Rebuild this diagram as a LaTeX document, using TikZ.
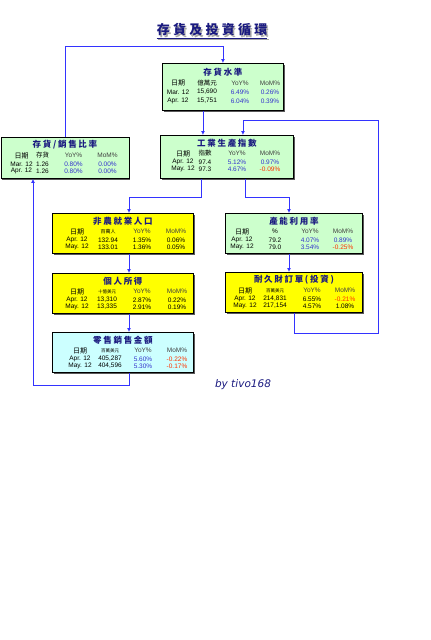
\documentclass[tikz,border=0pt]{standalone}
\usepackage{fontspec}
\setmainfont{Liberation Sans}
\newfontfamily\cjk{Noto Sans CJK TC}
\newfontfamily\verd{DejaVu Sans}
\usetikzlibrary{positioning,calc,arrows.meta,shadows}

\definecolor{boxgreen}{HTML}{CCFFCC}
\definecolor{boxyellow}{HTML}{FFFF00}
\definecolor{boxcyan}{HTML}{CCFFFF}
\definecolor{linkblue}{HTML}{3333FF}
\definecolor{navy}{HTML}{1A1A80}
\definecolor{valblue}{HTML}{3333CC}
\definecolor{valred}{HTML}{FF3300}

\newcommand{\bv}[1]{\textcolor{valblue}{#1}}
\newcommand{\rv}[1]{\textcolor{valred}{#1}}
\newcommand{\hd}[1]{\textcolor{black!75}{#1}}
\newcommand{\unitcjk}[2]{{\cjk\fontsize{#1}{#1}\selectfont #2}}
\newcommand{\setcols}[4]{\def\colA{#1}\def\colB{#2}\def\colC{#3}\def\colD{#4}}
\newcommand{\cellrow}[6]{%
  \node[cell] (#1#2a) at ($(#1.north west)+(\colA,#2)$) {#3};
  \node[cell] (#1#2b) at ($(#1.north west)+(\colB,#2)$) {#4};
  \node[cell] (#1#2c) at ($(#1.north west)+(\colC,#2)$) {#5};
  \node[cell] (#1#2d) at ($(#1.north west)+(\colD,#2)$) {#6};}

\tikzset{
  >={Latex[length=4pt,width=4pt]},
  databox/.style={draw=black, line width=0.9pt, inner sep=0pt, anchor=north west,
    drop shadow={shadow xshift=1.2pt, shadow yshift=-1.2pt, fill=black!65, opacity=1}},
  greenbox/.style={databox, fill=boxgreen},
  yellowbox/.style={databox, fill=boxyellow},
  cyanbox/.style={databox, fill=boxcyan},
  btitle/.style={inner sep=0pt, text=navy,
    font=\cjk\bfseries\fontsize{8.5}{9}\selectfont\addfontfeature{LetterSpace=20}},
  cell/.style={inner sep=0pt, font=\fontsize{6.5}{7}\selectfont},
  link/.style={draw=linkblue, line width=0.9pt},
  maintitle/.style={inner sep=0pt,
    font=\cjk\bfseries\fontsize{13}{14}\selectfont\addfontfeature{LetterSpace=25}},
}

\begin{document}
\begin{tikzpicture}[x=1pt,y=-1pt]
\useasboundingbox (0,0) rectangle (431,640);

% title
\node[maintitle, text=black!35] (titleshade) at (213.5,31.5) {存貨及投資循環};
\node[maintitle, text=navy] (title) at (212,30) {存貨及投資循環};
\draw[black!35, line width=0.8pt] ([xshift=1.5pt,yshift=-3pt]title.south west) -- ([xshift=1.5pt,yshift=-3pt]title.south east);
\draw[navy, line width=0.8pt] ([yshift=-2pt]title.south west) -- ([yshift=-2pt]title.south east);

% boxes
\node[greenbox, minimum width=121pt, minimum height=47pt] (stock) at (162,63) {};
\node[greenbox, minimum width=128pt, minimum height=41pt] (ratio) at (0.5,137) {};
\node[greenbox, minimum width=133pt, minimum height=43pt] (ind) at (160,135) {};
\node[yellowbox, minimum width=141pt, minimum height=40pt] (nfp) at (52,213) {};
\node[greenbox, minimum width=137pt, minimum height=40pt] (cap) at (225,213) {};
\node[yellowbox, minimum width=141pt, minimum height=40pt] (inc) at (52,273) {};
\node[yellowbox, minimum width=137pt, minimum height=40pt] (dur) at (225,272) {};
\node[cyanbox, minimum width=141pt, minimum height=40pt] (ret) at (52,332) {};

% box titles
\node[btitle] (stocktitle) at ($(stock.north)+(0,9)$) {存貨水準};
\node[btitle] (ratiotitle) at ($(ratio.north)+(0,8)$) {存貨/銷售比率};
\node[btitle] (indtitle) at ($(ind.north)+(0,8)$) {工業生產指數};
\node[btitle] (nfptitle) at ($(nfp.north)+(0,8)$) {非農就業人口};
\node[btitle] (captitle) at ($(cap.north)+(0,8)$) {產能利用率};
\node[btitle] (inctitle) at ($(inc.north)+(0,8)$) {個人所得};
\node[btitle] (durtitle) at ($(dur.north)+(0,8)$) {耐久財訂單(投資)};
\node[btitle] (rettitle) at ($(ret.north)+(0,8)$) {零售銷售金額};

% tables
\setcols{16}{45}{78}{108}
\cellrow{stock}{20}{\unitcjk{7}{日期}}{\unitcjk{6.5}{億萬元}}{\hd{YoY\%}}{\hd{MoM\%}}
\cellrow{stock}{29}{Mar. 12}{15,690}{\bv{6.49\%}}{\bv{0.26\%}}
\cellrow{stock}{38}{Apr. 12}{15,751}{\bv{6.04\%}}{\bv{0.39\%}}

\setcols{21}{42}{73}{107}
\cellrow{ratio}{18.5}{\unitcjk{7}{日期}}{\unitcjk{6.5}{存貨}}{\hd{YoY\%}}{\hd{MoM\%}}
\cellrow{ratio}{27}{Mar. 12}{1.26}{\bv{0.80\%}}{\bv{0.00\%}}
\cellrow{ratio}{34}{Apr. 12}{1.26}{\bv{0.80\%}}{\bv{0.00\%}}

\setcols{23}{45}{77}{110}
\cellrow{ind}{18.5}{\unitcjk{7}{日期}}{\unitcjk{6.5}{指數}}{\hd{YoY\%}}{\hd{MoM\%}}
\cellrow{ind}{27}{Apr. 12}{97.4}{\bv{5.12\%}}{\bv{0.97\%}}
\cellrow{ind}{34}{May. 12}{97.3}{\bv{4.67\%}}{\rv{-0.09\%}}

\setcols{25}{56}{90}{124}
\cellrow{nfp}{18.5}{\unitcjk{7}{日期}}{\unitcjk{5}{百萬人}}{\hd{YoY\%}}{\hd{MoM\%}}
\cellrow{nfp}{27}{Apr. 12}{132.94}{1.35\%}{0.06\%}
\cellrow{nfp}{34}{May. 12}{133.01}{1.36\%}{0.05\%}

\setcols{17}{50}{85}{118}
\cellrow{cap}{18.5}{\unitcjk{7}{日期}}{\%}{\hd{YoY\%}}{\hd{MoM\%}}
\cellrow{cap}{27}{Apr. 12}{79.2}{\bv{4.07\%}}{\bv{0.89\%}}
\cellrow{cap}{34}{May. 12}{79.0}{\bv{3.54\%}}{\rv{-0.25\%}}

\setcols{25}{55}{90}{125}
\cellrow{inc}{18.5}{\unitcjk{7}{日期}}{\unitcjk{4.5}{十億美元}}{\hd{YoY\%}}{\hd{MoM\%}}
\cellrow{inc}{27}{Apr. 12}{13,310}{2.87\%}{0.22\%}
\cellrow{inc}{34}{May. 12}{13,335}{2.91\%}{0.19\%}

\setcols{20}{50}{87}{120}
\cellrow{dur}{18.5}{\unitcjk{7}{日期}}{\unitcjk{4.5}{百萬美元}}{\hd{YoY\%}}{\hd{MoM\%}}
\cellrow{dur}{27}{Apr. 12}{214,831}{6.55\%}{\rv{-0.21\%}}
\cellrow{dur}{34}{May. 12}{217,154}{4.57\%}{1.08\%}

\setcols{28}{58}{91}{125}
\cellrow{ret}{18.5}{\unitcjk{7}{日期}}{\unitcjk{4.5}{百萬美元}}{\hd{YoY\%}}{\hd{MoM\%}}
\cellrow{ret}{27}{Apr. 12}{405,287}{\bv{5.60\%}}{\rv{-0.22\%}}
\cellrow{ret}{34}{May. 12}{404,596}{\bv{5.30\%}}{\rv{-0.17\%}}

% connectors
\coordinate (toprow) at (0,46);
\coordinate (midrow) at (0,197);
\coordinate (colL) at (129,0);
\coordinate (colR) at (289,0);
\coordinate (botL) at (33,385);
\coordinate (botR) at (378,333);
\coordinate (topR) at (378,120);
\draw[link,->] (ratio.north) |- (toprow -| stock.north) -- (stock.north);
\draw[link,->] ([xshift=-20pt]stock.south) -- ([xshift=-20pt]stock.south |- ind.north);
\draw[link,->] ([xshift=-26pt]ind.south) |- (midrow -| colL) -- (colL |- nfp.north);
\draw[link,->] ([xshift=18pt]ind.south) |- (midrow -| colR) -- (colR |- cap.north);
\draw[link,->] (colL |- nfp.south) -- (colL |- inc.north);
\draw[link,->] (colL |- inc.south) -- (colL |- ret.north);
\draw[link,->] (colR |- cap.south) -- (colR |- dur.north);
\draw[link,->] (colL |- ret.south) |- (botL) -- (botL |- ratio.south);
\draw[link,->] (dur.south) |- (botR) -- (topR) -| ([xshift=16pt]ind.north);

% signature
\node[inner sep=0pt, text=navy, font=\verd\itshape\fontsize{10.5}{12}\selectfont] (author) at (243,385) {by tivo168};
\end{tikzpicture}
\end{document}
